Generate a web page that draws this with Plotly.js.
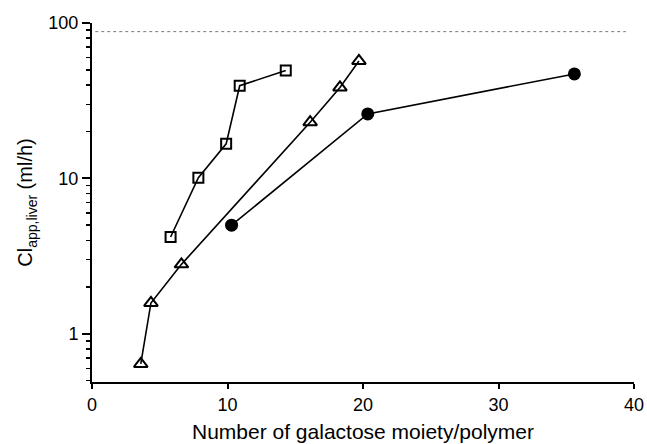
<!DOCTYPE html>
<html>
<head>
<meta charset="utf-8">
<script src="https://cdn.plot.ly/plotly-3.0.1.min.js"></script>
<style>html,body{margin:0;padding:0;background:#fff;}#chart{width:647px;height:444px;}</style>
</head>
<body>
<div id="chart"></div>
<script>
// Squares (open)
const sqX = [5.8, 7.85, 9.9, 10.9, 14.3];
const sqY = [4.2, 10.1, 16.7, 39.5, 49.5];
// Triangles (open)
const triX = [3.6, 4.35, 6.6, 16.1, 18.3, 19.7];
const triY = [0.64, 1.58, 2.8, 23.0, 38.5, 57.0];
// Circles (filled)
const cirX = [10.3, 20.35, 35.6];
const cirY = [5.0, 26.0, 47.0];
// Reference level (dotted line)
const refLevel = 88;
const xTicks = [0, 10, 20, 30, 40];
const yTicks = [1, 10, 100];
const yTickText = ['1', '10', '100'];
const yMinor = [0.5,0.6,0.7,0.8,0.9,2,3,4,5,6,7,8,9,20,30,40,50,60,70,80,90];

const font = 'Liberation Sans, Arial, sans-serif';
const lineStyle = {color: '#000', width: 1.6};

const traces = [
  {x: sqX, y: sqY, mode: 'lines+markers', line: lineStyle,
   marker: {symbol: 'square-open', size: 10, color: '#000', line: {width: 2, color: '#000'}}},
  {x: triX, y: triY, mode: 'lines+markers', line: lineStyle,
   marker: {symbol: 'triangle-up-open', size: 12, color: '#000', line: {width: 2, color: '#000'}}},
  {x: cirX, y: cirY, mode: 'lines+markers', line: lineStyle,
   marker: {symbol: 'circle', size: 13, color: '#000'}}
];

const layout = {
  width: 647, height: 444,
  margin: {l: 92, r: 13, t: 23, b: 62},
  paper_bgcolor: '#fff', plot_bgcolor: '#fff',
  showlegend: false,
  font: {family: font, color: '#000', size: 18},
  xaxis: {
    range: [0, 40], tickvals: xTicks, showgrid: false, zeroline: false,
    showline: true, linewidth: 2, linecolor: '#000',
    ticks: 'outside', ticklen: 5, tickwidth: 2, tickcolor: '#000',
    tickfont: {size: 18},
    title: {text: 'Number of galactose moiety/polymer', font: {size: 21}, standoff: 11}
  },
  yaxis: {
    type: 'log', range: [Math.log10(0.49), 2],
    tickvals: yTicks, ticktext: yTickText, showgrid: false, zeroline: false,
    showline: true, linewidth: 2, linecolor: '#000',
    ticks: 'outside', ticklen: 8, tickwidth: 2, tickcolor: '#000',
    tickfont: {size: 18},
    minor: {tickvals: yMinor, ticks: 'outside', ticklen: 4, tickwidth: 1.5, tickcolor: '#000', showgrid: false},
    title: {text: 'Cl<sub>app,liver</sub> (ml/h)', font: {size: 20}, standoff: 10}
  },
  shapes: [{
    type: 'line', xref: 'paper', yref: 'y', x0: 0.006, x1: 0.985, y0: refLevel, y1: refLevel,
    line: {color: '#777', width: 1, dash: 'dot'}
  }]
};

Plotly.newPlot('chart', traces, layout, {displayModeBar: false, staticPlot: true});
</script>
</body>
</html>
